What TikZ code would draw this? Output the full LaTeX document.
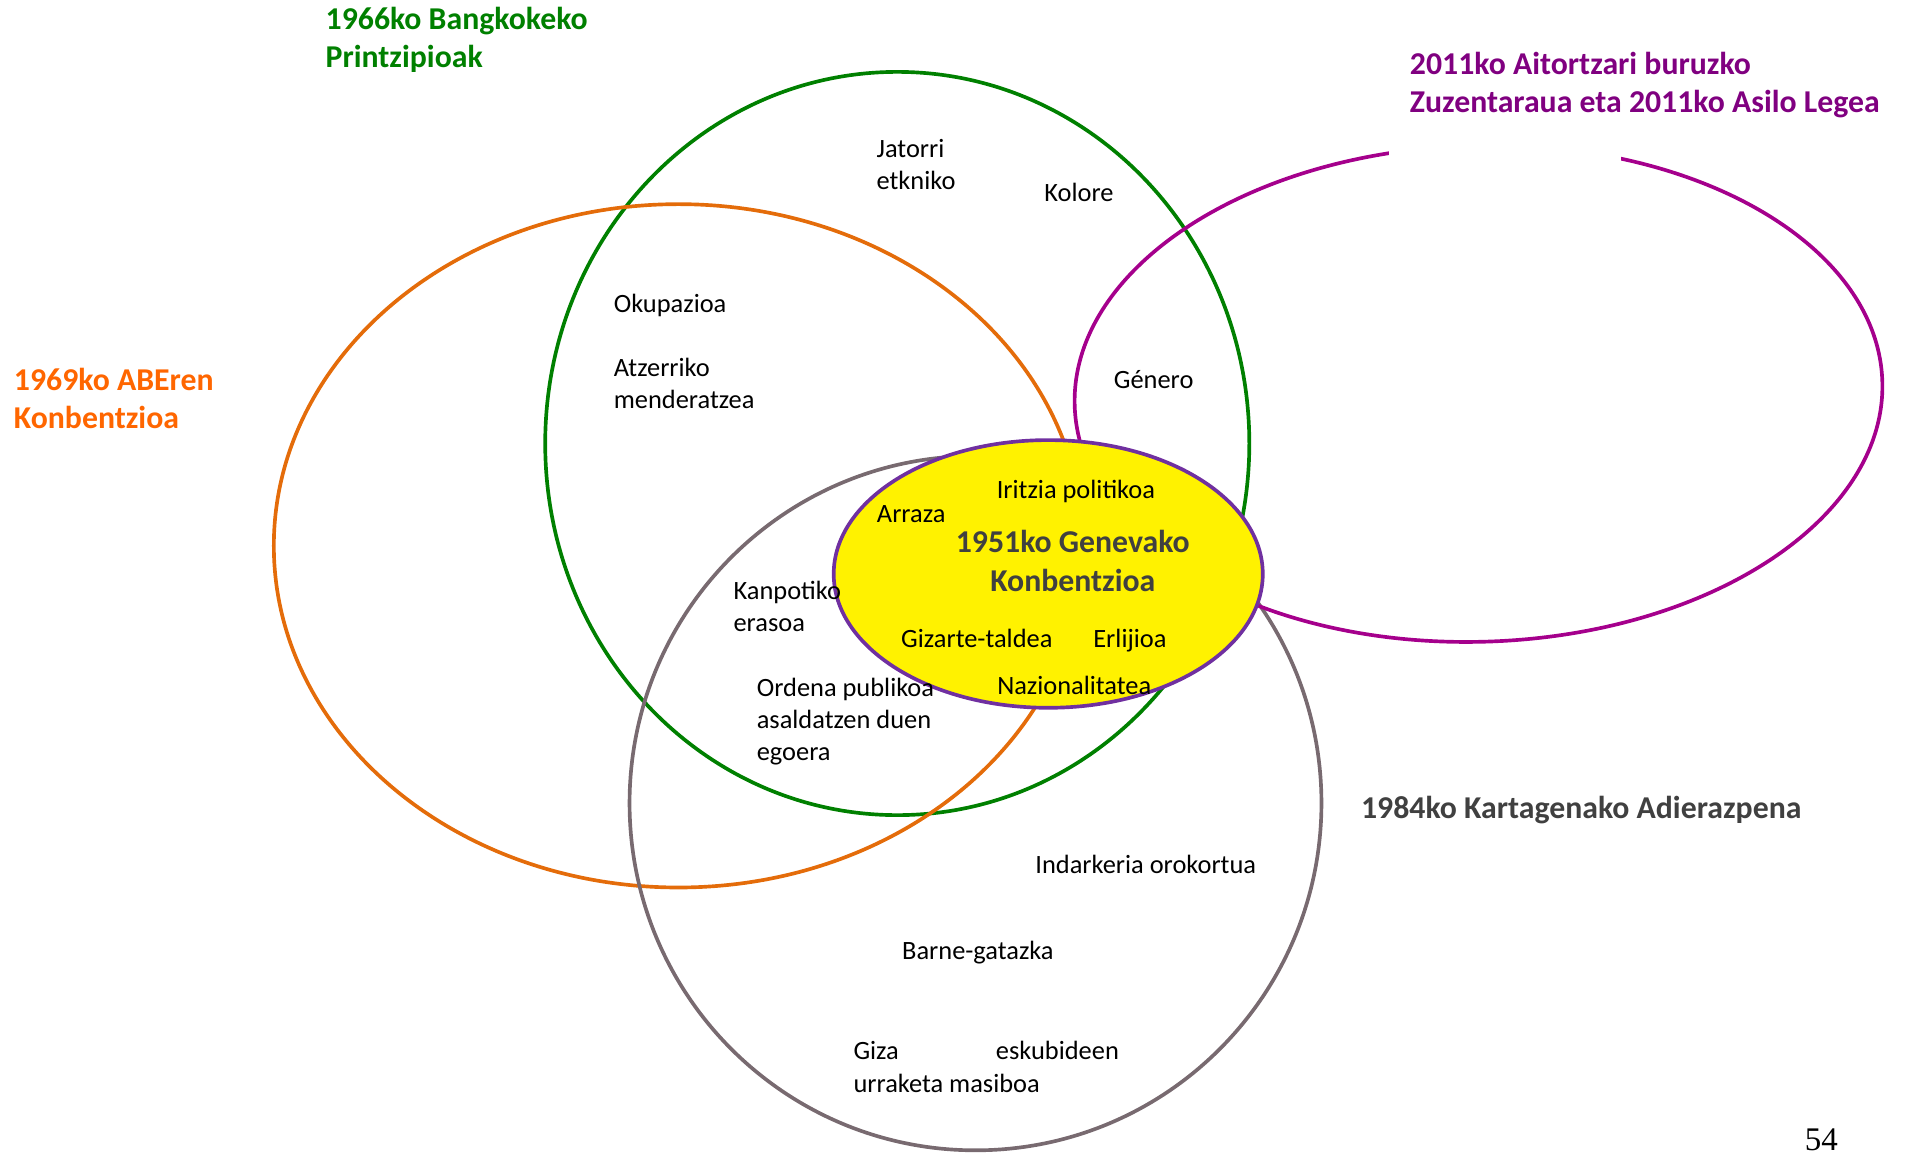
\documentclass[tikz,border=0pt]{standalone}
\usepackage{fontspec}
\setmainfont{Carlito}
\newfontfamily\pagenumfont{Liberation Serif}
\definecolor{cgreen}{RGB}{0,128,0}
\definecolor{corange}{RGB}{228,108,10}
\definecolor{corangetxt}{RGB}{255,102,0}
\definecolor{cgray}{RGB}{120,106,112}
\definecolor{cmagenta}{RGB}{165,0,140}
\definecolor{cpurpletxt}{RGB}{128,0,128}
\definecolor{cborder}{RGB}{112,48,160}
\definecolor{cdark}{RGB}{64,64,64}
\tikzset{
  ring/.style={line width=1.5pt},
  lbl/.style={font=\fontsize{10.8}{13.2}\selectfont, inner sep=0pt, anchor=base west, align=left, text=black},
  ttl/.style={font=\fontsize{13}{15.75}\selectfont\bfseries, inner sep=0pt, anchor=base west, align=left}
}
\begin{document}
\begin{tikzpicture}[x=0.5pt,y=-0.5pt]
\useasboundingbox (0,0) rectangle (1560,944);
% centres
\coordinate (cGreen) at (734,362.8);
\coordinate (cOrange) at (555,446.5);
\coordinate (cGray) at (798,657);
\coordinate (cMag) at (1209.5,322);
\coordinate (cYel) at (857.5,469.5);
% circles
\draw[ring, cgreen] (cGreen) ellipse [x radius=288, y radius=304];
\draw[ring, corange] (cOrange) ellipse [x radius=331, y radius=279.5];
\draw[ring, cgray] (cGray) ellipse [x radius=283, y radius=284];
\draw[ring, cmagenta, rotate around={1.7:(cMag)}] (cMag) ellipse [x radius=330.5, y radius=203];
\fill[white] (1136,98) rectangle (1326,142);
\draw[ring, cborder, fill=yellow] (cYel) ellipse [x radius=175.5, y radius=109.5];
% titles (anchor = baseline of last line)
\node[ttl, text=cgreen] (tBang) at (266,55.6) {1966ko Bangkokeko\\Printzipioak};
\node[ttl, text=cpurpletxt] (tAsilo) at (1153,92.3) {2011ko Aitortzari buruzko\\Zuzentaraua eta 2011ko Asilo Legea};
\node[ttl, text=corangetxt] (tABE) at (11,350.6) {1969ko ABEren\\Konbentzioa};
\node[ttl, text=cdark] (tKart) at (1113,669.6) {1984ko Kartagenako Adierazpena};
\node[ttl, text=cdark, anchor=base, align=center] (tGen) at (877.6,483.8) {1951ko Genevako\\Konbentzioa};
% items
\node[lbl] (jat) at (716.7,155) {Jatorri\\etkniko};
\node[lbl] (kol) at (854,164.6) {Kolore};
\node[lbl] (oku) at (501.7,255.3) {Okupazioa};
\node[lbl] (atz) at (501.7,334) {Atzerriko\\menderatzea};
\node[lbl] (gen) at (910.8,317.6) {Género};
\node[lbl] (iri) at (815,407.6) {Iritzia politikoa};
\node[lbl] (arr) at (717,427.5) {Arraza};
\node[lbl] (kan) at (599.7,516.6) {Kanpotiko\\erasoa};
\node[lbl] (giz) at (736.8,529.6) {Gizarte-taldea};
\node[lbl] (erl) at (894,529.6) {Erlijioa};
\node[lbl] (ord) at (618.7,622.5) {Ordena publikoa\\asaldatzen duen\\egoera};
\node[lbl] (naz) at (815.4,568.5) {Nazionalitatea};
\node[lbl] (ind) at (846.6,714.3) {Indarkeria orokortua};
\node[lbl] (bar) at (737.6,785) {Barne-gatazka};
\node[lbl] (gza) at (697.8,893.4) {\makebox[58.25pt][l]{Giza}eskubideen\\urraketa masiboa};
\node[font=\pagenumfont\fontsize{13.5}{16}\selectfont, inner sep=0pt, anchor=base west] (pg) at (1476,941) {54};
\end{tikzpicture}
\end{document}
